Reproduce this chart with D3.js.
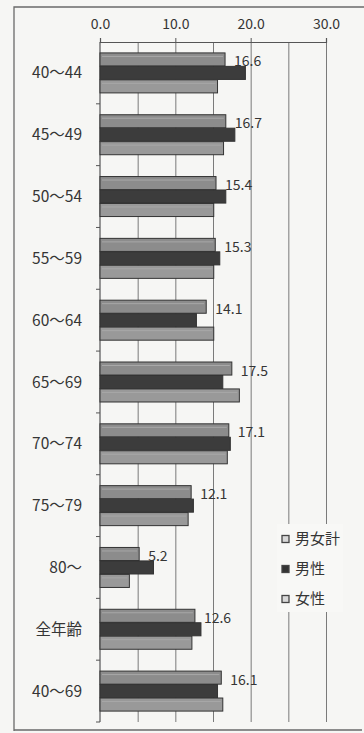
<!DOCTYPE html>
<html><head><meta charset="utf-8">
<script src="https://cdn.jsdelivr.net/npm/d3@7"></script>
<style>
html,body{margin:0;padding:0;background:#f6f6f4;}
svg{display:block;}
</style></head>
<body><svg id="chart" width="364" height="733"></svg>
<script>
const categories = ["40～44","45～49","50～54","55～59","60～64","65～69","70～74","75～79","80～","全年齢","40～69"];
const totalValues  = [16.6,16.7,15.4,15.3,14.1,17.5,17.1,12.1,5.2,12.6,16.1];
const maleValues   = [19.3,17.9,16.7,15.9,12.8,16.3,17.3,12.4,7.1,13.4,15.6];
const femaleValues = [15.6,16.4,15.1,15.1,15.1,18.5,16.9,11.7,3.9,12.2,16.3];
const seriesNames  = ["男女計","男性","女性"];
const tickValues   = [0,10,20,30];
const gridValues   = [0,5,10,15,20,25,30];

const svg = d3.select("#chart");
const font = "'Noto Sans CJK JP','Noto Sans',sans-serif";
const ink = "#353535";

// frame
svg.append("path").attr("d","M14,731 L14,7 L364,7 M14,730 L362,730")
  .attr("fill","none").attr("stroke","#6a6a6a").attr("stroke-width",1.3);

const x = d3.scaleLinear().domain([0,30]).range([100,326]);
const y = d3.scaleBand().domain(categories).range([42,722]).paddingInner(0.34).paddingOuter(0.17);
const sub = d3.scaleBand().domain(seriesNames).range([0,y.bandwidth()]).padding(0.03);

const fills = {"男女計":"#8c8c8c","男性":"#3c3c3c","女性":"#999999"};

// vertical grid
svg.append("g").selectAll("line").data(gridValues.slice(1)).join("line")
  .attr("x1",d=>x(d)+0.5).attr("x2",d=>x(d)+0.5).attr("y1",42).attr("y2",722)
  .attr("stroke","#7a7a7a").attr("stroke-width",1);

// legend box (covers grid)
const lg = svg.append("g").attr("transform","translate(277,524)");
lg.append("rect").attr("x",0).attr("y",0).attr("width",66).attr("height",88).attr("fill","#f8f8f6");

// top axis
const xAxis = d3.axisTop(x).tickValues(tickValues).tickFormat(d3.format(".1f")).tickSize(4).tickPadding(9);
const gx = svg.append("g").attr("transform","translate(0,42)").call(xAxis);
gx.select(".domain").attr("stroke","#555").attr("stroke-width",1.2);
gx.selectAll(".tick line").attr("stroke","#555");
gx.selectAll("text").attr("font-family",font).attr("font-size",14).attr("fill",ink);

// left axis with ticks at group boundaries
svg.append("line").attr("x1",100).attr("x2",100).attr("y1",42).attr("y2",722).attr("stroke","#555").attr("stroke-width",1.2);
const bounds = categories.map(c=>y(c)-y.step()*y.paddingInner()/2).slice(1).concat([722]);
svg.append("g").selectAll("line").data(bounds).join("line")
  .attr("x1",96).attr("x2",100).attr("y1",d=>d).attr("y2",d=>d).attr("stroke","#555");

// category labels
svg.append("g").selectAll("text").data(categories).join("text")
  .attr("x",82).attr("y",d=>y(d)+y.bandwidth()/2).attr("text-anchor","end").attr("dy","0.36em")
  .attr("font-family",font).attr("font-size",15.5).attr("fill",ink).text(d=>d);

// bars
const rows = categories.map((c,i)=>({c, vals:[
  {s:"男女計",v:totalValues[i]},{s:"男性",v:maleValues[i]},{s:"女性",v:femaleValues[i]}]}));
const groups = svg.append("g").selectAll("g").data(rows).join("g")
  .attr("transform",d=>`translate(0,${y(d.c)})`);
groups.selectAll("rect").data(d=>d.vals).join("rect")
  .attr("x",x(0)).attr("y",d=>sub(d.s)).attr("width",d=>x(d.v)-x(0)).attr("height",sub.bandwidth())
  .attr("fill",d=>fills[d.s]).attr("stroke","#333").attr("stroke-width",1);
// light inner highlight on the grey bars
groups.selectAll("line.hl").data(d=>d.vals.filter(v=>v.s!=="男性")).join("line").attr("class","hl")
  .attr("x1",x(0)+2).attr("x2",d=>x(d.v)-2).attr("y1",d=>sub(d.s)+3.5).attr("y2",d=>sub(d.s)+3.5)
  .attr("stroke","#a8a8a8").attr("stroke-width",1);

// value labels for 男女計
svg.append("g").selectAll("text").data(rows).join("text")
  .attr("x",d=>x(d.vals[0].v)+9).attr("y",d=>y(d.c)+sub("男女計")+sub.bandwidth()/2+2)
  .attr("dy","0.36em").attr("font-family",font).attr("font-size",14)
  .attr("fill",ink).text(d=>d3.format(".1f")(d.vals[0].v));

// legend
const li = lg.selectAll("g").data(seriesNames).join("g")
  .attr("transform",(d,i)=>`translate(0,${15+i*30})`);
li.append("rect").attr("x",5).attr("y",-3.5).attr("width",7).attr("height",7)
  .attr("fill",d=>d==="男性"?"#333":"#d8d8d8").attr("stroke","#444").attr("stroke-width",1.3);
li.append("text").attr("x",18).attr("dy","0.36em").attr("font-family",font).attr("font-size",15)
  .attr("fill",ink).text(d=>d);
</script></body></html>
